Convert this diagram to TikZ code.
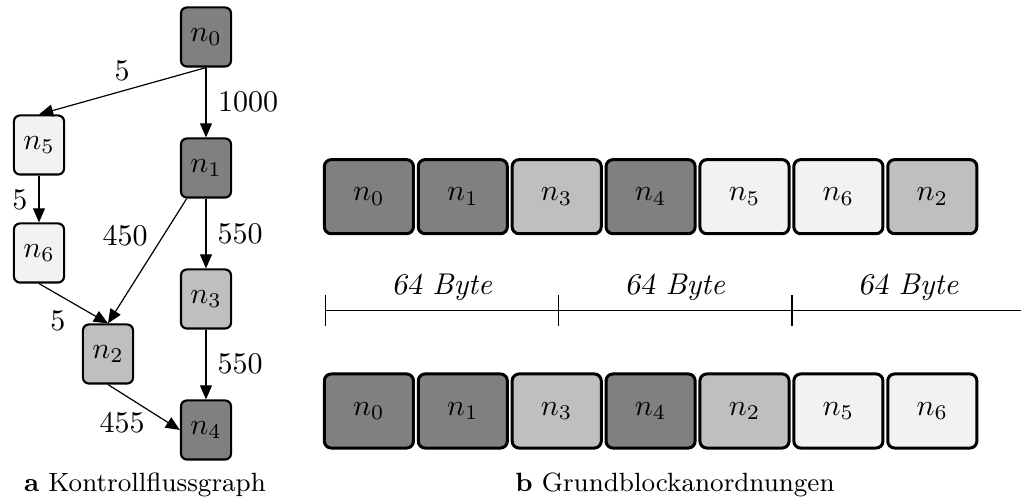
\documentclass[tikz,border=0pt]{standalone}
\usetikzlibrary{arrows.meta}
\definecolor{blkdark}{gray}{0.50}
\definecolor{blkmid}{gray}{0.75}
\definecolor{blklight}{gray}{0.95}
\newcommand{\lblsize}{\fontsize{10}{12}\selectfont}
\newcommand{\capsize}{\fontsize{8.8}{10.5}\selectfont}
\newcommand{\bytes}{\textsl{64} \textit{Byte}}
\tikzset{
  gnode/.style={draw=black, line width=0.7pt, rounded corners=2pt,
    minimum width=16.7pt, minimum height=19.7pt, inner sep=0pt, font=\lblsize},
  blk/.style={draw=black, line width=1pt, rounded corners=2.3pt,
    minimum width=29.7pt, minimum height=24.7pt, inner sep=0pt, font=\lblsize},
  dark/.style={fill=blkdark},
  mid/.style={fill=blkmid},
  light/.style={fill=blklight},
  edge/.style={line width=0.4pt, -{Triangle[length=4.7pt,width=4pt]}},
  wlabel/.style={font=\lblsize, inner sep=0pt},
  ruler/.style={line width=0.4pt},
  bytelabel/.style={font=\lblsize, inner sep=0pt, anchor=base},
  caption/.style={font=\capsize, inner sep=0pt, anchor=base}
}
\begin{document}
\begin{tikzpicture}[x=0.33333pt, y=-0.33333pt]
\useasboundingbox (0,0) rectangle (1021,501);

% control flow graph
\node[gnode, dark]  (n0) at (206,37)  {$n_0$};
\node[gnode, dark]  (n1) at (206,168) {$n_1$};
\node[gnode, light] (n5) at (39,145)  {$n_5$};
\node[gnode, light] (n6) at (39,253)  {$n_6$};
\node[gnode, mid]   (n3) at (206,299) {$n_3$};
\node[gnode, mid]   (n2) at (108,354) {$n_2$};
\node[gnode, dark]  (n4) at (206,430) {$n_4$};

\draw[edge] (n0.south) -- (n5.north);
\draw[edge] (n0) -- (n1);
\draw[edge] (n5) -- (n6);
\draw[edge] (n1) -- (n2.north);
\draw[edge] (n1) -- (n3);
\draw[edge] (n6.south) -- (n2.north);
\draw[edge] (n3) -- (n4);
\draw[edge] (n2.south) -- (n4.west);

% edge weights
\node[wlabel] (w05) at (122,71)  {5};
\node[wlabel] (w01) at (248,102) {1000};
\node[wlabel] (w56) at (20,200)  {5};
\node[wlabel] (w12) at (125,236) {450};
\node[wlabel] (w13) at (240,234) {550};
\node[wlabel] (w62) at (58,321)  {5};
\node[wlabel] (w34) at (240,364) {550};
\node[wlabel] (w24) at (122,423) {455};

\node[caption] (capa) at (145,492) {\textbf{a} Kontrollflussgraph};

% first block order
\node[blk, dark]  (a0) at (368.9,196.7) {$n_0$};
\node[blk, dark]  (a1) at (462.8,196.7) {$n_1$};
\node[blk, mid]   (a2) at (556.7,196.7) {$n_3$};
\node[blk, dark]  (a3) at (650.6,196.7) {$n_4$};
\node[blk, light] (a4) at (744.5,196.7) {$n_5$};
\node[blk, light] (a5) at (838.4,196.7) {$n_6$};
\node[blk, mid]   (a6) at (932.3,196.7) {$n_2$};

% cache line ruler
\coordinate (t0) at (325.7,310.7);
\coordinate (t1) at (558.7,310.7);
\coordinate (t2) at (792,310.7);
\coordinate (t3) at (1021,310.7);
\draw[ruler] (t0) -- (t3);
\foreach \t in {t0,t1,t2}
  \draw[ruler] ([yshift=-5.2pt]\t) -- ([yshift=5.2pt]\t);
\node[bytelabel] (c0) at (442.2,295) {\bytes};
\node[bytelabel] (c1) at (675.3,295) {\bytes};
\node[bytelabel] (c2) at (908.5,295) {\bytes};

% second block order
\node[blk, dark]  (b0) at (368.9,411) {$n_0$};
\node[blk, dark]  (b1) at (462.8,411) {$n_1$};
\node[blk, mid]   (b2) at (556.7,411) {$n_3$};
\node[blk, dark]  (b3) at (650.6,411) {$n_4$};
\node[blk, mid]   (b4) at (744.5,411) {$n_2$};
\node[blk, light] (b5) at (838.4,411) {$n_5$};
\node[blk, light] (b6) at (932.3,411) {$n_6$};

\node[caption] (capb) at (675,492) {\textbf{b} Grundblockanordnungen};
\end{tikzpicture}
\end{document}
